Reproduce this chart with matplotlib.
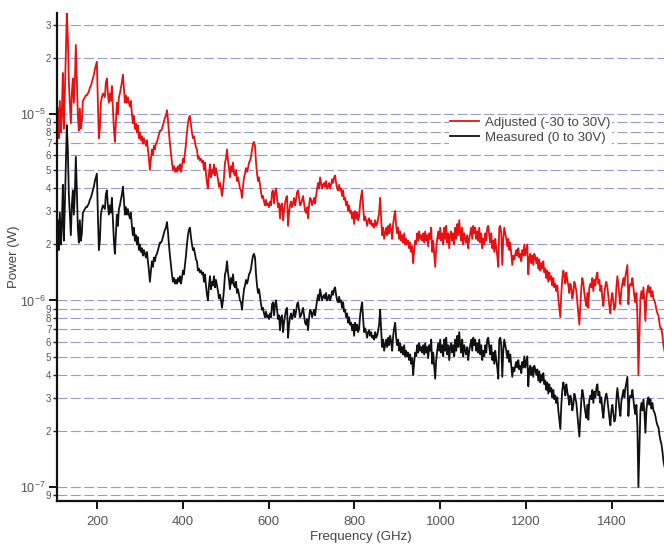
import matplotlib
matplotlib.use("Agg")
import matplotlib.pyplot as plt
import numpy as np
from matplotlib.ticker import LogLocator, FuncFormatter

plt.rcParams['font.family'] = ['Liberation Sans', 'DejaVu Sans']

freq_start_ghz = 109.0
freq_stop_ghz = 1522.0

# power in dBm (1 mW reference)
measured_dbm = [
    -25.7, -27.3, -25.3, -27.0, -26.0, -23.8, -26.8, -24.9, -22.7, -20.6,
    -21.9, -24.3, -25.4, -26.5, -24.9, -24.1, -25.4, -24.3, -22.3, -24.1,
    -26.1, -26.9, -25.7, -26.8, -26.4, -25.3, -25.2, -25.1, -25.0, -25.0,
    -24.9, -24.8, -24.6, -24.5, -24.3, -24.1, -23.9, -23.6, -23.4, -23.2,
    -25.4, -27.3, -26.8, -25.4, -25.1, -24.9, -25.0, -25.1, -24.3, -24.1,
    -24.9, -25.4, -24.9, -25.3, -24.5, -25.7, -26.8, -27.5, -26.5, -25.4,
    -26.0, -25.1, -24.9, -24.6, -24.3, -23.9, -24.6, -25.4, -25.0, -25.4,
    -25.1, -25.4, -25.6, -25.3, -26.0, -26.5, -26.1, -26.8, -26.5, -27.0,
    -26.6, -27.3, -27.0, -27.4, -27.2, -27.6, -27.3, -27.5, -27.7, -27.4,
    -27.9, -28.4, -29.0, -28.4, -27.9, -28.2, -27.7, -27.9, -27.6, -27.5,
    -27.3, -27.1, -26.9, -26.9, -26.8, -26.6, -26.4, -26.2, -26.1, -25.8,
    -26.3, -27.0, -27.6, -28.1, -28.6, -29.0, -28.8, -29.1, -28.9, -29.1,
    -28.8, -29.0, -28.7, -29.1, -28.8, -28.4, -28.6, -28.1, -27.6, -27.0,
    -26.5, -26.2, -26.1, -26.6, -27.0, -27.3, -27.2, -27.5, -27.8, -27.9,
    -28.4, -28.3, -28.5, -28.4, -28.6, -28.5, -29.0, -28.6, -29.2, -29.7,
    -30.0, -29.2, -28.7, -29.4, -29.0, -29.2, -28.7, -29.3, -28.9, -29.2,
    -29.5, -29.9, -29.7, -30.0, -30.4, -30.0, -29.4, -28.6, -28.4, -27.9,
    -28.5, -28.9, -29.4, -28.8, -29.1, -28.6, -29.2, -29.3, -29.0, -29.6,
    -29.4, -29.7, -30.0, -30.1, -30.5, -29.9, -29.4, -29.2, -28.9, -29.1,
    -28.9, -28.6, -28.5, -28.3, -27.9, -27.6, -27.5, -27.7, -28.6, -29.2,
    -29.6, -29.4, -29.8, -30.2, -30.5, -30.4, -30.7, -30.9, -30.6, -30.9,
    -30.8, -31.0, -30.7, -30.9, -30.2, -30.1, -30.8, -30.2, -30.0, -30.5,
    -31.0, -30.8, -31.6, -30.9, -30.8, -31.7, -31.2, -30.8, -30.5, -30.4,
    -32.0, -31.3, -30.9, -30.7, -31.0, -30.8, -30.5, -30.9, -30.6, -30.2,
    -30.1, -30.5, -30.9, -30.8, -30.6, -30.4, -30.8, -31.2, -31.3, -31.0,
    -31.6, -30.9, -30.5, -30.6, -30.9, -30.7, -30.5, -30.8, -30.4, -30.0,
    -29.7, -30.0, -29.4, -29.7, -30.0, -29.8, -29.7, -29.9, -29.6, -30.0,
    -29.9, -29.7, -30.0, -29.8, -29.5, -29.7, -29.4, -29.3, -29.7, -30.0,
    -30.1, -29.8, -30.1, -30.0, -30.4, -30.1, -30.6, -30.5, -30.9, -30.7,
    -31.2, -30.9, -31.3, -31.2, -31.6, -31.3, -31.9, -31.2, -31.6, -31.3,
    -31.7, -31.5, -30.8, -30.4, -30.1, -31.0, -31.7, -31.5, -31.7, -32.0,
    -31.7, -31.6, -31.9, -31.7, -32.0, -31.9, -32.1, -31.7, -32.0, -31.9,
    -31.6, -31.3, -30.5, -31.6, -32.5, -32.1, -32.7, -32.4, -32.1, -32.5,
    -32.0, -32.4, -31.9, -32.2, -32.7, -31.9, -31.5, -31.2, -32.0, -32.4,
    -32.1, -32.7, -32.3, -32.8, -32.5, -32.9, -32.4, -33.0, -32.7, -33.0,
    -32.8, -33.2, -32.9, -33.4, -33.1, -34.0, -33.3, -32.8, -33.0, -32.4,
    -32.8, -32.3, -32.7, -32.5, -32.8, -32.4, -32.9, -32.3, -32.8, -32.5,
    -33.1, -32.4, -32.7, -32.1, -33.4, -32.8, -33.5, -34.2, -33.2, -32.7,
    -32.3, -32.7, -32.1, -32.8, -32.4, -33.0, -32.1, -32.7, -32.0, -32.9,
    -32.4, -33.2, -32.5, -32.3, -32.8, -32.4, -33.0, -32.1, -32.7, -31.9,
    -32.5, -31.7, -32.4, -32.8, -32.1, -33.0, -32.4, -32.7, -32.9, -32.5,
    -33.2, -32.7, -32.4, -32.1, -32.7, -32.0, -32.4, -32.1, -32.7, -32.3,
    -32.8, -32.1, -32.9, -32.4, -33.2, -32.7, -33.0, -32.4, -32.8, -32.1,
    -32.0, -32.5, -32.9, -32.4, -33.2, -32.8, -33.4, -32.7, -33.2, -33.6,
    -34.2, -32.1, -32.0, -32.4, -34.1, -32.7, -32.1, -32.4, -32.7, -33.1,
    -32.7, -33.3, -32.9, -33.5, -34.1, -33.6, -33.8, -33.5, -33.3, -33.6,
    -33.2, -33.7, -33.5, -33.9, -33.3, -33.6, -33.0, -33.6, -33.3, -33.0,
    -34.6, -33.7, -33.5, -34.0, -33.6, -34.1, -33.5, -33.7, -34.0, -33.7,
    -34.3, -33.8, -34.4, -34.0, -34.3, -33.9, -34.5, -34.3, -34.8, -34.4,
    -35.0, -34.5, -34.9, -34.7, -35.2, -34.8, -35.3, -35.1, -35.5, -35.2,
    -35.9, -36.4, -36.9, -35.6, -34.8, -34.4, -34.7, -35.1, -34.5, -34.9,
    -35.2, -35.6, -35.1, -35.3, -35.9, -35.6, -35.0, -35.2, -35.5, -36.1,
    -36.7, -37.3, -36.3, -35.3, -34.8, -35.1, -35.6, -36.0, -36.3, -35.6,
    -36.4, -35.3, -35.1, -35.3, -34.8, -35.5, -34.9, -35.2, -34.7, -34.5,
    -35.1, -34.9, -35.5, -35.2, -35.9, -36.3, -35.6, -35.2, -35.0, -35.3,
    -35.8, -36.3, -36.7, -35.9, -35.6, -36.1, -36.5, -36.3, -35.3, -34.7,
    -35.2, -35.8, -36.2, -35.4, -35.1, -34.8, -35.2, -34.7, -34.4, -34.1,
    -36.2, -35.3, -35.1, -35.2, -34.8, -35.3, -35.8, -36.1, -35.6, -36.8,
    -40.0, -38.0, -35.9, -35.5, -35.9, -35.3, -36.0, -37.1, -35.9, -35.4,
    -35.2, -35.6, -35.3, -35.8, -35.5, -35.9, -36.0, -36.2, -36.5, -36.7,
    -36.8, -37.2, -37.5, -37.7, -38.1, -38.6, -38.9,
]

adjusted_dbm = [
    -19.7, -21.3, -19.3, -21.0, -20.0, -17.8, -20.8, -18.9, -16.7, -14.6,
    -15.9, -18.3, -19.4, -20.5, -18.9, -18.1, -19.4, -18.3, -16.3, -18.1,
    -20.1, -20.9, -19.7, -20.8, -20.4, -19.3, -19.2, -19.1, -19.0, -19.0,
    -18.9, -18.8, -18.6, -18.5, -18.3, -18.1, -17.9, -17.6, -17.4, -17.2,
    -19.4, -21.3, -20.8, -19.4, -19.1, -18.9, -19.0, -19.1, -18.3, -18.1,
    -18.9, -19.4, -18.9, -19.3, -18.5, -19.7, -20.8, -21.5, -20.5, -19.4,
    -20.0, -19.1, -18.9, -18.6, -18.3, -17.9, -18.6, -19.4, -19.0, -19.4,
    -19.1, -19.4, -19.6, -19.3, -20.0, -20.5, -20.1, -20.8, -20.5, -21.0,
    -20.6, -21.3, -21.0, -21.4, -21.2, -21.6, -21.3, -21.5, -21.7, -21.4,
    -21.9, -22.4, -23.0, -22.4, -21.9, -22.2, -21.7, -21.9, -21.6, -21.5,
    -21.3, -21.1, -20.9, -20.9, -20.8, -20.6, -20.4, -20.2, -20.1, -19.8,
    -20.3, -21.0, -21.6, -22.1, -22.6, -23.0, -22.8, -23.1, -22.9, -23.1,
    -22.8, -23.0, -22.7, -23.1, -22.8, -22.4, -22.6, -22.1, -21.6, -21.0,
    -20.5, -20.2, -20.1, -20.6, -21.0, -21.3, -21.2, -21.5, -21.8, -21.9,
    -22.4, -22.3, -22.5, -22.4, -22.6, -22.5, -23.0, -22.6, -23.2, -23.7,
    -24.0, -23.2, -22.7, -23.4, -23.0, -23.2, -22.7, -23.3, -22.9, -23.2,
    -23.5, -23.9, -23.7, -24.0, -24.4, -24.0, -23.4, -22.6, -22.4, -21.9,
    -22.5, -22.9, -23.4, -22.8, -23.1, -22.6, -23.2, -23.3, -23.0, -23.6,
    -23.4, -23.7, -24.0, -24.1, -24.5, -23.9, -23.4, -23.2, -22.9, -23.1,
    -22.9, -22.6, -22.5, -22.3, -21.9, -21.6, -21.5, -21.7, -22.6, -23.2,
    -23.6, -23.4, -23.8, -24.2, -24.5, -24.4, -24.7, -24.9, -24.6, -24.9,
    -24.8, -25.0, -24.7, -24.9, -24.2, -24.1, -24.8, -24.2, -24.0, -24.5,
    -25.0, -24.8, -25.6, -24.9, -24.8, -25.7, -25.2, -24.8, -24.5, -24.4,
    -26.0, -25.3, -24.9, -24.7, -25.0, -24.8, -24.5, -24.9, -24.6, -24.2,
    -24.1, -24.5, -24.9, -24.8, -24.6, -24.4, -24.8, -25.2, -25.3, -25.0,
    -25.6, -24.9, -24.5, -24.6, -24.9, -24.7, -24.5, -24.8, -24.4, -24.0,
    -23.7, -24.0, -23.4, -23.7, -24.0, -23.8, -23.7, -23.9, -23.6, -24.0,
    -23.9, -23.7, -24.0, -23.8, -23.5, -23.7, -23.4, -23.3, -23.7, -24.0,
    -24.1, -23.8, -24.1, -24.0, -24.4, -24.1, -24.6, -24.5, -24.9, -24.7,
    -25.2, -24.9, -25.3, -25.2, -25.6, -25.3, -25.9, -25.2, -25.6, -25.3,
    -25.7, -25.5, -24.8, -24.4, -24.1, -25.0, -25.7, -25.5, -25.7, -26.0,
    -25.7, -25.6, -25.9, -25.7, -26.0, -25.9, -26.1, -25.7, -26.0, -25.9,
    -25.6, -25.3, -24.5, -25.6, -26.5, -26.1, -26.7, -26.4, -26.1, -26.5,
    -26.0, -26.4, -25.9, -26.2, -26.7, -25.9, -25.5, -25.2, -26.0, -26.4,
    -26.1, -26.7, -26.3, -26.8, -26.5, -26.9, -26.4, -27.0, -26.7, -27.0,
    -26.8, -27.2, -26.9, -27.4, -27.1, -28.0, -27.3, -26.8, -27.0, -26.4,
    -26.8, -26.3, -26.7, -26.5, -26.8, -26.4, -26.9, -26.3, -26.8, -26.5,
    -27.1, -26.4, -26.7, -26.1, -27.4, -26.8, -27.5, -28.2, -27.2, -26.7,
    -26.3, -26.7, -26.1, -26.8, -26.4, -27.0, -26.1, -26.7, -26.0, -26.9,
    -26.4, -27.2, -26.5, -26.3, -26.8, -26.4, -27.0, -26.1, -26.7, -25.9,
    -26.5, -25.7, -26.4, -26.8, -26.1, -27.0, -26.4, -26.7, -26.9, -26.5,
    -27.2, -26.7, -26.4, -26.1, -26.7, -26.0, -26.4, -26.1, -26.7, -26.3,
    -26.8, -26.1, -26.9, -26.4, -27.2, -26.7, -27.0, -26.4, -26.8, -26.1,
    -26.0, -26.5, -26.9, -26.4, -27.2, -26.8, -27.4, -26.7, -27.2, -27.6,
    -28.2, -26.1, -26.0, -26.4, -28.1, -26.7, -26.1, -26.4, -26.7, -27.1,
    -26.7, -27.3, -26.9, -27.5, -28.1, -27.6, -27.8, -27.5, -27.3, -27.6,
    -27.2, -27.7, -27.5, -27.9, -27.3, -27.6, -27.0, -27.6, -27.3, -27.0,
    -28.6, -27.7, -27.5, -28.0, -27.6, -28.1, -27.5, -27.7, -28.0, -27.7,
    -28.3, -27.8, -28.4, -28.0, -28.3, -27.9, -28.5, -28.3, -28.8, -28.4,
    -29.0, -28.5, -28.9, -28.7, -29.2, -28.8, -29.3, -29.1, -29.5, -29.2,
    -29.9, -30.4, -30.9, -29.6, -28.8, -28.4, -28.7, -29.1, -28.5, -28.9,
    -29.2, -29.6, -29.1, -29.3, -29.9, -29.6, -29.0, -29.2, -29.5, -30.1,
    -30.7, -31.3, -30.3, -29.3, -28.8, -29.1, -29.6, -30.0, -30.3, -29.6,
    -30.4, -29.3, -29.1, -29.3, -28.8, -29.5, -28.9, -29.2, -28.7, -28.5,
    -29.1, -28.9, -29.5, -29.2, -29.9, -30.3, -29.6, -29.2, -29.0, -29.3,
    -29.8, -30.3, -30.7, -29.9, -29.6, -30.1, -30.5, -30.3, -29.3, -28.7,
    -29.2, -29.8, -30.2, -29.4, -29.1, -28.8, -29.2, -28.7, -28.4, -28.1,
    -30.2, -29.3, -29.1, -29.2, -28.8, -29.3, -29.8, -30.1, -29.6, -30.8,
    -34.0, -32.0, -29.9, -29.5, -29.9, -29.3, -30.0, -31.1, -29.9, -29.4,
    -29.2, -29.6, -29.3, -29.8, -29.5, -29.9, -30.0, -30.2, -30.5, -30.7,
    -30.8, -31.2, -31.5, -31.5, -31.9, -32.4, -32.7,
]

series_labels = ['Adjusted (-30 to 30V)', 'Measured (0 to 30V)']
x_ticks = [200, 400, 600, 800, 1000, 1200, 1400]

freq = np.linspace(freq_start_ghz, freq_stop_ghz, len(measured_dbm))
measured_w = 1e-3 * 10 ** (np.array(measured_dbm) / 10)
adjusted_w = 1e-3 * 10 ** (np.array(adjusted_dbm) / 10)

fig = plt.figure(figsize=(6.64, 5.48), dpi=100)
ax = fig.add_axes([0.0858, 0.0858, 0.9142, 0.8905])

ax.plot(freq, adjusted_w, color='#e81010', lw=1.3, label=series_labels[0])
ax.plot(freq, measured_w, color='#111111', lw=1.3, label=series_labels[1])

ax.set_yscale('log')
ax.set_xlim(107, 1521)
ax.set_ylim(0.84e-7, 3.48e-5)

ax.set_xticks(x_ticks)
ax.xaxis.set_minor_locator(plt.NullLocator())
ax.yaxis.set_major_locator(LogLocator(base=10))
ax.yaxis.set_minor_locator(LogLocator(base=10, subs=np.arange(2, 10)))


def minor_fmt(v, pos):
    mant = v / 10 ** np.floor(np.log10(v) + 1e-9)
    return '%d' % round(mant)


ax.yaxis.set_minor_formatter(FuncFormatter(minor_fmt))
ax.tick_params(axis='y', which='minor', labelsize=7, length=3, width=1.0,
               colors='#222222', labelcolor='#555555', pad=1)
ax.tick_params(axis='y', which='major', labelsize=9, length=6, width=1.3,
               labelcolor='#555555', pad=2)
ax.tick_params(axis='x', which='major', labelsize=9.5, length=6, width=1.3,
               labelcolor='#555555', pad=5)

ax.yaxis.grid(True, which='both', color='#8080c0', lw=0.8,
              linestyle=(0, (9, 3)), alpha=0.8)
ax.set_axisbelow(True)

for s in ['top', 'right']:
    ax.spines[s].set_visible(False)
for s in ['left', 'bottom']:
    ax.spines[s].set_linewidth(1.6)
    ax.spines[s].set_color('#111111')

ax.set_xlabel('Frequency (GHz)', fontsize=9.5, color='#444444', labelpad=2)
ax.set_ylabel('Power (W)', fontsize=9.5, color='#444444', labelpad=0)

leg = ax.legend(loc='upper left', bbox_to_anchor=(0.645, 0.79), frameon=True,
                fontsize=9.5, handlelength=2.2, borderpad=0.1, labelspacing=0.2,
                handletextpad=0.5, borderaxespad=0)
leg.get_frame().set_facecolor('white')
leg.get_frame().set_edgecolor('none')
leg.get_frame().set_alpha(1.0)
for t in leg.get_texts():
    t.set_color('#444444')

fig.savefig('out.png', dpi=100)
